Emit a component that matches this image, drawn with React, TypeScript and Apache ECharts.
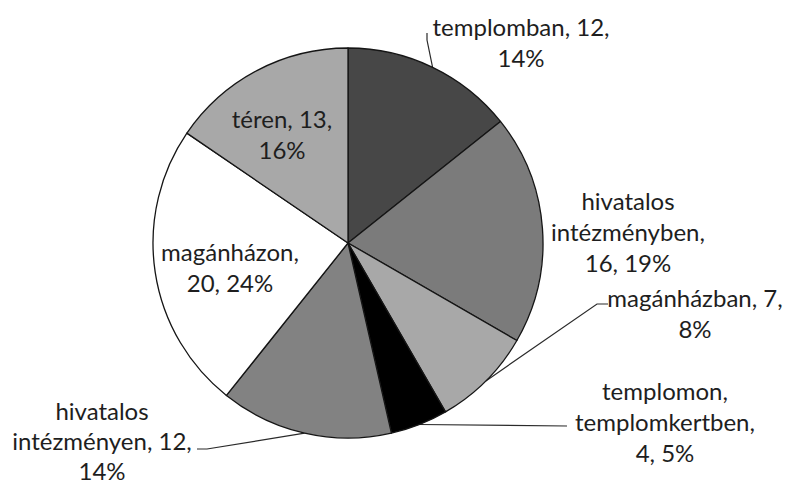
import React, { useEffect, useRef } from "react";
import * as echarts from "echarts";

const categories = [
  "templomban",
  "hivatalos\nintézményben",
  "magánházban",
  "templomon,\ntemplomkertben",
  "hivatalos\nintézményen",
  "magánházon",
  "téren",
];
const values = [12, 16, 7, 4, 12, 20, 13];
const percents = [14, 19, 8, 5, 14, 24, 16];
const colors = ["#474747", "#7b7b7b", "#a8a8a8", "#000000", "#828282", "#ffffff", "#a8a8a8"];
const templates = [
  "{n}, {v},\n{p}%",
  "{n},\n{v}, {p}%",
  "{n}, {v},\n{p}%",
  "{n},\n{v}, {p}%",
  "{n}, {v},\n{p}%",
  "{n},\n{v}, {p}%",
  "{n}, {v},\n{p}%",
];

// label placement (layout only)
const labelPlace: { x: number; y: number; lh?: number; line?: number[][] }[] = [
  { x: 521, y: 42, line: [[427, 40], [427, 33]] },
  { x: 628, y: 231 },
  { x: 695, y: 313, line: [[597, 304], [608, 304]] },
  { x: 665, y: 421, line: [[567, 426], [567, 426]] },
  { x: 102, y: 440, lh: 30, line: [[207, 449], [197, 449]] },
  { x: 230, y: 267 },
  { x: 282, y: 134 },
];

export default function App() {
  const ref = useRef<HTMLDivElement>(null);
  useEffect(() => {
    document.body.style.margin = "0";
    const chart = echarts.init(ref.current!, undefined, { renderer: "svg" });
    const data = categories.map((n, i) => ({
      name: n,
      value: values[i],
      itemStyle: { color: colors[i] },
      labelLine: { show: !!labelPlace[i].line },
      label: labelPlace[i].lh ? { lineHeight: labelPlace[i].lh } : undefined,
    }));
    chart.setOption({
      animation: false,
      backgroundColor: "#ffffff",
      series: [
        {
          type: "pie",
          center: [348, 243],
          radius: 195,
          startAngle: 90,
          clockwise: true,
          avoidLabelOverlap: false,
          minShowLabelAngle: 0,
          data,
          itemStyle: { borderColor: "#151515", borderWidth: 1.3 },
          label: {
            show: true,
            position: "outside",
            fontFamily: "Lato",
            fontSize: 24,
            lineHeight: 31,
            color: "#1e1e1e",
            formatter: (p: any) =>
              templates[p.dataIndex]
                .replace("{n}", p.name)
                .replace("{v}", String(p.value))
                .replace("{p}", String(percents[p.dataIndex])),
          },
          labelLine: { show: true, lineStyle: { color: "#2a2a2a", width: 1.2 } },
          labelLayout: (params: any) => {
            const i = params.dataIndex;
            const pl = labelPlace[i];
            const res: any = { x: pl.x, y: pl.y, align: "center", verticalAlign: "middle" };
            if (pl.line && params.labelLinePoints) {
              res.labelLinePoints = [params.labelLinePoints[0], ...pl.line];
            }
            return res;
          },
          emphasis: { disabled: true },
        },
      ],
    });
    return () => chart.dispose();
  }, []);
  return <div ref={ref} style={{ width: 791, height: 485 }} />;
}
